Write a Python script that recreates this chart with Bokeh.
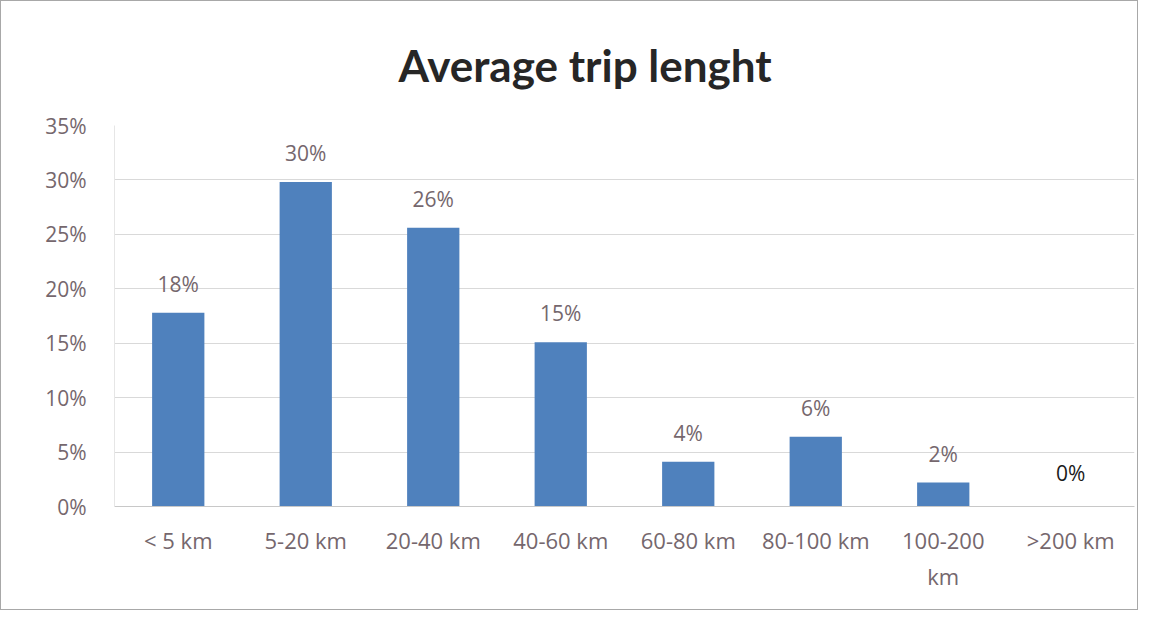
from bokeh.plotting import figure
from bokeh.models import ColumnDataSource, LabelSet, NumeralTickFormatter, FixedTicker, FactorRange
from bokeh.core.properties import value
from bokeh.embed import file_html
from bokeh.resources import INLINE

categories = ["< 5 km", "5-20 km", "20-40 km", "40-60 km", "60-80 km", "80-100 km", "100-200 km", ">200 km"]
shares = [0.178, 0.298, 0.256, 0.151, 0.041, 0.064, 0.022, 0.0]
label_texts = [f"{round(v * 100)}%" for v in shares]
y_ticks = [0.0, 0.05, 0.10, 0.15, 0.20, 0.25, 0.30, 0.35]
title_text = "Average trip lenght"

FONT = "Open Sans"
GREY = "#75676d"

# long category names wrap onto two lines, as in the original chart
display_factors = [c.replace("100-200 km", "100-200\nkm") for c in categories]

n = len(categories)
src = ColumnDataSource(dict(cat=display_factors, val=shares, txt=label_texts,
                            col=[GREY] * (n - 1) + ["#1a1a1a"],
                            off=[21] * (n - 1) + [26]))

p = figure(x_range=FactorRange(factors=display_factors), y_range=(0, 0.35), width=1138, height=610,
           output_backend="svg", toolbar_location=None,
           min_border_left=113, min_border_right=5, min_border_top=124, min_border_bottom=105)
p.styles = {"border": "1px solid #a8a8a8"}
p.outline_line_color = None
p.background_fill_color = "white"
p.border_fill_color = "white"

p.vbar(x="cat", top="val", width=0.41, source=src, fill_color="#4f81bd", line_color=None)

labels = LabelSet(x="cat", y="val", text="txt", source=src, text_align="center",
                  text_baseline="alphabetic", y_offset="off", text_font=value(FONT),
                  text_font_size="21px", text_color="col")
p.add_layout(labels)

# grid
p.xgrid.grid_line_color = None
p.ygrid.grid_line_color = "#d9d9d9"
p.ygrid.grid_line_width = 1

# y axis
p.yaxis.ticker = FixedTicker(ticks=y_ticks)
p.yaxis.formatter = NumeralTickFormatter(format="0%")
p.yaxis.axis_line_color = "#e6e6e6"
p.yaxis.major_tick_line_color = None
p.yaxis.minor_tick_line_color = None
p.yaxis.major_label_standoff = 22
p.yaxis.major_label_text_font = FONT
p.yaxis.major_label_text_font_size = "21px"
p.yaxis.major_label_text_color = GREY

# x axis
p.xaxis.axis_line_color = "#c8c8c8"
p.xaxis.major_tick_line_color = None
p.xaxis.minor_tick_line_color = None
p.xaxis.major_label_standoff = 12
p.xaxis.major_label_text_font = FONT
p.xaxis.major_label_text_font_size = "22px"
p.xaxis.major_label_text_color = GREY

# title
p.title.text = title_text
p.title.align = "left"
p.title.vertical_align = "top"
p.title.offset = 284
p.title.standoff = 66
p.title.text_font = "Lato"
p.title.text_font_size = "44px"
p.title.text_font_style = "bold"
p.title.text_color = "#262626"

open("out.html", "w").write(file_html(p, INLINE))
